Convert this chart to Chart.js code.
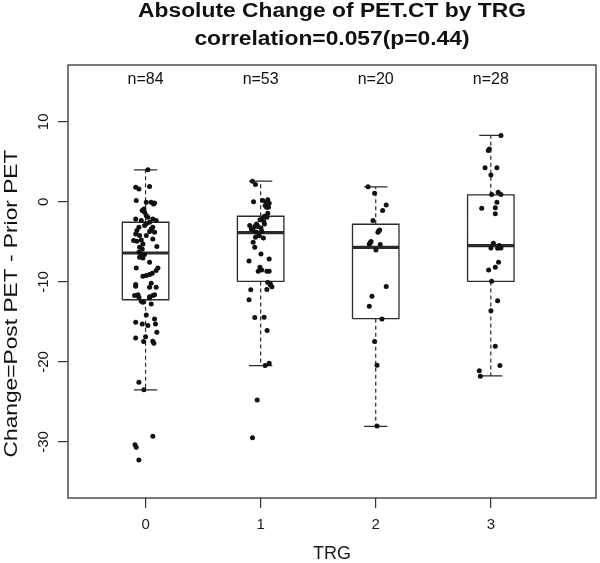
<!DOCTYPE html>
<html>
<head>
<meta charset="utf-8">
<script src="https://cdn.jsdelivr.net/npm/chart.js@4.4.1/dist/chart.umd.min.js"></script>
<style>
html,body{margin:0;padding:0;background:#fff;}
#wrap{width:600px;height:563px;}
</style>
</head>
<body>
<div id="wrap"><canvas id="c" width="600" height="563"></canvas></div>
<script>
// ---- data ----
const titleLines = ['Absolute Change of PET.CT by TRG', 'correlation=0.057(p=0.44)'];
const xTitle = 'TRG';
const yTitle = 'Change=Post PET - Prior PET';
const xCategories = [0, 1, 2, 3];
const xLabels = ['0', '1', '2', '3'];
const nLabels = ['n=84', 'n=53', 'n=20', 'n=28'];
const yTickValues = [-30, -20, -10, 0, 10];
const yTickLabels = ['-30', '-20', '-10', '0', '10'];

const q1 = [-12.23, -9.94, -14.6, -9.94];
const medians = [-6.39, -3.84, -5.68, -5.47];
const q3 = [-2.55, -1.80, -2.80, 0.88];
const whiskerLow = [-23.5, -20.46, -28.06, -21.75];
const whiskerHigh = [4.0, 2.59, 1.88, 8.31];

const jitter0 = [0.02,-0.086,-0.058,0.035,-0.081,0.006,0.049,0.078,0.069,-0.014,
  -0.009,0.006,-0.086,-0.037,0.063,0.092,0.035,0.006,-0.009,-0.058,
  -0.075,0.049,0.063,-0.086,-0.052,0.006,0.035,0.078,0.063,-0.104,
  -0.075,-0.037,-0.023,0.098,-0.052,-0.029,-0.058,-0.037,-0.009,-0.052,
  -0.023,0.035,-0.081,0.107,0.092,-0.023,0.006,0.035,0.058,-0.086,
  -0.086,0.049,0.035,0.092,-0.095,-0.066,-0.058,0.035,0.063,0.078,
  0.035,-0.023,-0.037,0.049,0.006,0.078,-0.086,-0.029,0.02,0.086,
  0.098,-0.086,0,-0.017,0.063,0.072,-0.058,-0.014,0.063,-0.092,
  -0.081,-0.058,0.02,-0.029];
const change0 = [4.0,1.83,1.62,1.91,0.16,-0.05,-0.05,-0.13,-0.26,-0.88,
  -1.30,-1.71,-2.13,-2.34,-2.13,-2.34,-2.55,-2.75,-2.96,-3.17,
  -3.59,-3.38,-3.17,-4.0,-4.21,-4.21,-3.71,-3.80,-4.63,-4.84,
  -4.92,-4.75,-5.25,-5.59,-5.67,-5.88,-6.30,-6.50,-6.59,-6.92,
  -7.0,-7.55,-8.25,-8.25,-8.59,-9.30,-9.21,-9.09,-8.92,-10.34,
  -10.55,-10.17,-10.67,-10.67,-11.71,-11.59,-11.92,-11.84,-11.71,-11.59,
  -12.0,-12.55,-12.42,-12.75,-14.13,-14.63,-15.05,-15.25,-15.46,-15.25,
  -16.30,-17.0,-16.84,-17.46,-17.42,-17.67,-22.55,-23.46,-29.30,-30.34,
  -30.67,-32.25,-1.92,-1.09];

const jitter1 = [-0.071,-0.045,-0.062,0.018,0.039,0.062,0.074,0.051,0.033,0.015,
  0.054,-0.036,-0.095,-0.051,-0.021,0.003,-0.065,-0.036,0.009,-0.012,
  0.024,-0.065,-0.051,-0.101,0.003,0.074,-0.021,0.009,0.054,0.074,
  0.062,0.083,0.098,0.054,-0.086,-0.101,-0.051,0.03,0.056,0.039,
  0.074,-0.03,-0.071,-0.006,0.033,-0.08,0.051,0.068,-0.045,-0.006,
  0.062,0.083,0.027];
const change1 = [2.59,2.17,0,0.17,-0.46,0.25,-0.17,-0.67,-1.80,-2.13,
  -1.92,-2.76,-2.96,-3.09,-3.09,-3.26,-3.59,-3.80,-3.67,-4.22,
  -4.51,-5.05,-5.68,-7.39,-6.51,-7.14,-8.68,-8.52,-8.68,-8.68,
  -10.06,-10.35,-10.61,-10.94,-10.98,-12.23,-14.45,-14.41,-16.08,-20.46,
  -20.17,-24.76,-29.48,-2.25,-2.76,-3.38,-0.04,-0.67,-4.43,-8.18,
  -1.42,-10.19,-2.46];

const jitter2 = [-0.067,-0.01,0.091,0.06,-0.024,0.034,0.019,-0.041,-0.056,0.039,
  0.002,0.091,-0.033,-0.056,0.054,-0.01,0.011,0.011,0.025,-0.047];
const change2 = [1.88,1.08,-0.38,-1.09,-2.34,-3.5,-3.8,-4.96,-5.25,-5.34,
  -6.0,-10.59,-11.8,-13.05,-14.63,-17.46,-20.4,-28.0,-3.65,-5.1];

const jitter3 = [0.088,-0.022,-0.013,-0.05,0.053,0.001,0.007,0.064,0.088,0.053,
  -0.079,0.039,0.039,0.022,0.001,0.073,0.059,0.088,0.067,0.039,
  -0.019,0.007,0.059,0.001,0.039,0.079,-0.1,-0.091];
const change3 = [8.29,6.41,6.62,4.25,4.25,3.37,0.91,1.2,0.91,-0.05,
  -0.8,-0.75,-1.5,-5.17,-5.75,-5.46,-5.8,-5.75,-7.55,-8.17,
  -8.5,-9.92,-12.34,-13.59,-18.05,-20.46,-21.09,-21.8];

// ---- build datasets ----
const jitters = [jitter0, jitter1, jitter2, jitter3];
const changes = [change0, change1, change2, change3];
const BOX_HALF = 0.202, CAP_HALF = 0.101;
const INK = '#2b2b2b';

const pointData = [];
xCategories.forEach((c, i) => {
  changes[i].forEach((v, k) => pointData.push({x: c + jitters[i][k], y: v}));
});
const gap = c => ({x: c + 0.45, y: null});
const boxData = [], medData = [], whiskData = [], capData = [];
xCategories.forEach((c, i) => {
  boxData.push({x: c - BOX_HALF, y: q1[i]}, {x: c + BOX_HALF, y: q1[i]},
               {x: c + BOX_HALF, y: q3[i]}, {x: c - BOX_HALF, y: q3[i]},
               {x: c - BOX_HALF, y: q1[i]}, gap(c));
  medData.push({x: c - BOX_HALF, y: medians[i]}, {x: c + BOX_HALF, y: medians[i]}, gap(c));
  whiskData.push({x: c, y: q3[i]}, {x: c, y: whiskerHigh[i]}, {x: c + 0.01, y: null},
                 {x: c, y: q1[i]}, {x: c, y: whiskerLow[i]}, gap(c));
  capData.push({x: c - CAP_HALF, y: whiskerHigh[i]}, {x: c + CAP_HALF, y: whiskerHigh[i]}, {x: c + 0.3, y: null},
               {x: c - CAP_HALF, y: whiskerLow[i]}, {x: c + CAP_HALF, y: whiskerLow[i]}, gap(c));
});
const lineDs = (data, width, dash) => ({
  type: 'scatter', data, showLine: true, spanGaps: false, pointRadius: 0,
  borderColor: INK, borderWidth: width, borderDash: dash || [], fill: false, tension: 0
});

// ---- annotation plugin (text + frame) ----
const annot = {
  id: 'annot',
  afterDraw(chart) {
    const ctx = chart.ctx, a = chart.chartArea;
    const xs = chart.scales.x, ys = chart.scales.y;
    ctx.save();
    // frame
    ctx.strokeStyle = '#333';
    ctx.lineWidth = 1.3;
    ctx.strokeRect(a.left, a.top, a.right - a.left, a.bottom - a.top);
    ctx.fillStyle = '#111';
    // title
    ctx.font = 'bold 19.5px "Liberation Sans", Arial, sans-serif';
    ctx.textAlign = 'center';
    ctx.textBaseline = 'alphabetic';
    const cx = (a.left + a.right) / 2;
    [16.9, 44.5].forEach((by, i) => {
      ctx.save(); ctx.translate(cx, by); ctx.scale(1.17, 1);
      ctx.fillText(titleLines[i], 0, 0); ctx.restore();
    });
    // y axis title
    ctx.font = '17.5px "Liberation Sans", Arial, sans-serif';
    ctx.save(); ctx.translate(17.3, (a.top + a.bottom) / 2 + 22); ctx.rotate(-Math.PI / 2); ctx.scale(1.3, 1);
    ctx.fillText(yTitle, 0, 0); ctx.restore();
    // y tick labels (rotated)
    ctx.font = '15px "Liberation Sans", Arial, sans-serif';
    ctx.textBaseline = 'middle';
    yTickValues.forEach((v, i) => {
      ctx.save(); ctx.translate(43.7, ys.getPixelForValue(v)); ctx.rotate(-Math.PI / 2);
      ctx.fillText(yTickLabels[i], 0, 0); ctx.restore();
    });
    // n labels
    ctx.font = '16px "Liberation Sans", Arial, sans-serif';
    xCategories.forEach((c, i) => ctx.fillText(nLabels[i], xs.getPixelForValue(c), a.top + 14.3));
    ctx.restore();
  }
};

new Chart(document.getElementById('c'), {
  type: 'scatter',
  data: {
    datasets: [
      {type: 'scatter', data: pointData, pointRadius: 2.5, pointBackgroundColor: '#111', pointBorderWidth: 0, showLine: false},
      lineDs(medData, 3.2),
      lineDs(capData, 1.3),
      lineDs(boxData, 1.3),
      lineDs(whiskData, 1.2, [4, 3])
    ]
  },
  options: {
    responsive: false,
    devicePixelRatio: 1,
    animation: false,
    layout: {padding: {top: 65, right: 1, left: 0, bottom: 0}},
    plugins: {legend: {display: false}, tooltip: {enabled: false}, title: {display: false}},
    scales: {
      x: {
        type: 'linear', position: 'bottom', min: -0.674, max: 3.914,
        afterBuildTicks: s => { s.ticks = xCategories.map(v => ({value: v})); },
        afterFit: s => { s.height = 65; },
        ticks: {
          padding: 8, color: '#1a1a1a',
          font: {family: '"Liberation Sans", Arial, sans-serif', size: 15},
          callback: (v) => xLabels[xCategories.indexOf(v)]
        },
        grid: {display: true, drawOnChartArea: false, drawTicks: true, tickLength: 10, color: '#333', lineWidth: 1.2},
        border: {display: false},
        title: {display: true, text: xTitle, color: '#1a1a1a', padding: {top: 0, bottom: 0},
                font: {family: '"Liberation Sans", Arial, sans-serif', size: 18, lineHeight: 1}}
      },
      y: {
        type: 'linear', position: 'left', min: -37, max: 17.1,
        afterBuildTicks: s => { s.ticks = yTickValues.map(v => ({value: v})); },
        afterFit: s => { s.width = 68; },
        ticks: {display: false},
        grid: {display: true, drawOnChartArea: false, drawTicks: true, tickLength: 10, color: '#333', lineWidth: 1.2},
        border: {display: false}
      }
    }
  },
  plugins: [annot]
});
</script>
</body>
</html>
